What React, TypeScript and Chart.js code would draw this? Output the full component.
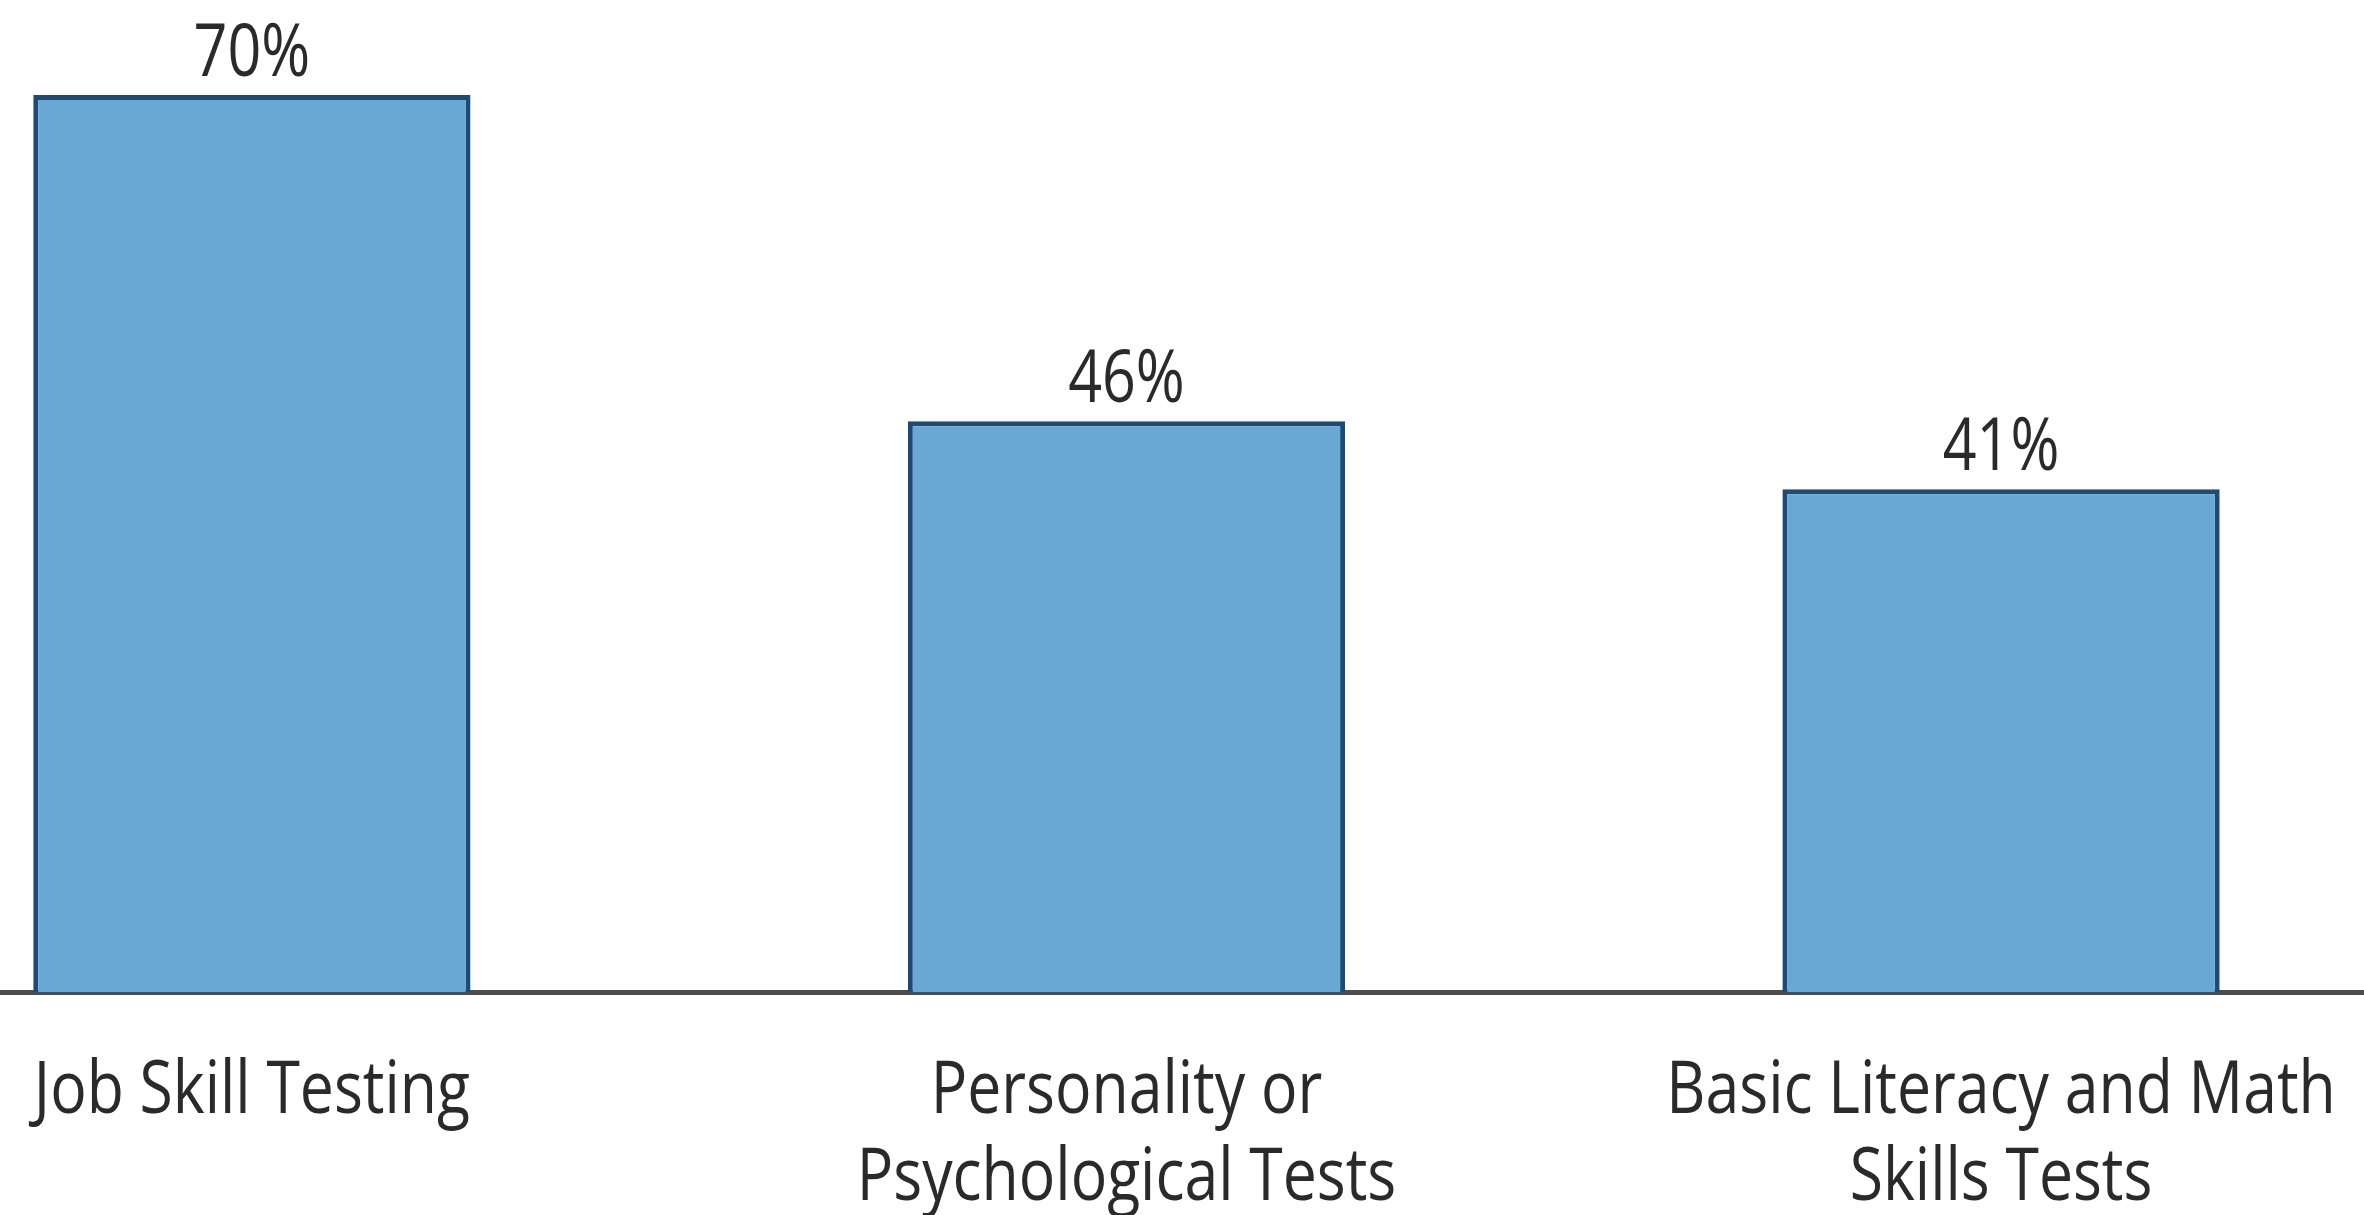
import React, { useEffect, useRef } from "react";
import { Chart, registerables } from "chart.js";

Chart.register(...registerables);

const CATEGORIES = [
  "Job Skill Testing",
  "Personality or Psychological Tests",
  "Basic Literacy and Math Skills Tests",
];
const CATEGORY_LINES = [
  ["Job Skill Testing"],
  ["Personality or", "Psychological Tests"],
  ["Basic Literacy and Math", "Skills Tests"],
];
const VALUES = [70, 46, 41];
const VALUE_SUFFIX = "%";

const FONT_FAMILY = '"Open Sans", "Noto Sans", "DejaVu Sans", sans-serif';
const TEXT_COLOR = "#2a2a2a";
const FONT_SIZE = 74;
const VALUE_SQUEEZE = 0.8;
const LABEL_SQUEEZE = 0.82;

function drawSqueezed(ctx: CanvasRenderingContext2D, text: string, x: number, y: number, sx: number) {
  ctx.save();
  ctx.translate(x, y);
  ctx.scale(sx, 1);
  ctx.fillText(text, 0, 0);
  ctx.restore();
}

const textLabels = {
  id: "textLabels",
  afterDatasetsDraw(chart: any) {
    const ctx: CanvasRenderingContext2D = chart.ctx;
    const meta = chart.getDatasetMeta(0);
    const xScale = chart.scales.x;
    ctx.save();
    ctx.font = `${FONT_SIZE}px ${FONT_FAMILY}`;
    ctx.fillStyle = TEXT_COLOR;
    ctx.textAlign = "center";
    ctx.textBaseline = "alphabetic";
    // value labels above the bars
    meta.data.forEach((bar: any, i: number) => {
      drawSqueezed(ctx, `${VALUES[i]}${VALUE_SUFFIX}`, bar.x, bar.y - 19, VALUE_SQUEEZE);
    });
    // category labels under the axis
    xScale.ticks.forEach((tick: any, i: number) => {
      const x = xScale.getPixelForTick(i);
      const lines = CATEGORY_LINES[Number(tick.value)] || [];
      lines.forEach((line: string, j: number) => {
        drawSqueezed(ctx, line, x, xScale.top + 121 + j * 87, LABEL_SQUEEZE);
      });
    });
    ctx.restore();
  },
};

export default function App() {
  const ref = useRef<HTMLCanvasElement | null>(null);

  useEffect(() => {
    if (!ref.current) return;
    const chart = new Chart(ref.current, {
      type: "bar",
      data: {
        labels: CATEGORIES,
        datasets: [
          {
            label: "Share",
            data: VALUES.map((v, i) => ({ x: i, y: v })),
            backgroundColor: "#69a7d5",
            borderColor: "#1c4b77",
            borderWidth: 5,
            borderSkipped: false,
            categoryPercentage: 1,
            barPercentage: 0.5,
          } as any,
        ],
      },
      options: {
        animation: false,
        responsive: false,
        devicePixelRatio: 1,
        layout: { padding: 0 },
        plugins: {
          legend: { display: false },
          tooltip: { enabled: false },
          title: { display: false },
        },
        scales: {
          x: {
            type: "linear",
            offset: false,
            min: -0.288,
            max: 2.415,
            afterBuildTicks: (scale: any) => {
              scale.ticks = CATEGORIES.map((_, i) => ({ value: i }));
            },
            afterFit: (scale: any) => {
              scale.height = 223;
            },
            grid: { display: false },
            border: { display: true, color: "#4d4d4d", width: 5 },
            ticks: { display: false },
          },
          y: {
            display: false,
            min: 4,
            max: 77,
          },
        },
      },
      plugins: [textLabels],
    } as any);
    return () => chart.destroy();
  }, []);

  return (
    <div style={{ position: "absolute", left: 0, top: 0, width: 2364, height: 1215, background: "#ffffff" }}>
      <canvas ref={ref} width={2364} height={1215} style={{ display: "block" }} />
    </div>
  );
}
